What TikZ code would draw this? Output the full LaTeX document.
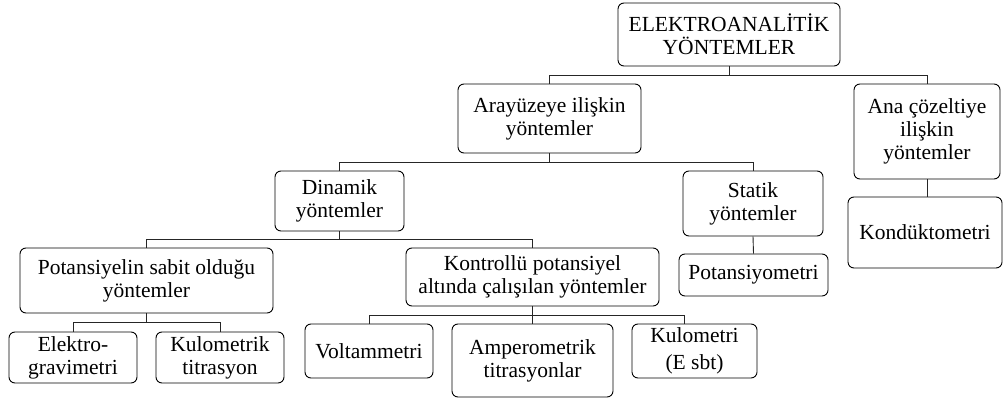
\documentclass[tikz,border=0pt]{standalone}
\usepackage{fontspec}
\setmainfont{Liberation Serif}
\newfontfamily\tnr{Liberation Serif}
\begin{document}
\begin{tikzpicture}[x=1pt,y=-1pt,
  box/.style={draw=black, line width=0.9pt, rounded corners=6pt, inner sep=0pt,
    align=center, font=\tnr\fontsize{21.5}{23}\selectfont, text=black},
  conn/.style={draw=black!85, line width=0.9pt}]
\useasboundingbox (0,0) rectangle (1003,398);
\fill[white] (0,0) rectangle (1003,398);
% boxes
\node[box, minimum width=222pt, minimum height=63pt] (top) at (729,34.5) {ELEKTROANALİTİK\\YÖNTEMLER};
\node[box, minimum width=183pt, minimum height=69pt] (ara) at (549.5,118.5) {Arayüzeye ilişkin\\yöntemler};
\node[box, minimum width=146pt, minimum height=95pt] (ana) at (927,131.5) {Ana çözeltiye\\ilişkin\\yöntemler};
\node[box, minimum width=129pt, minimum height=60pt] (din) at (339.5,201) {Dinamik\\yöntemler};
\node[box, minimum width=140pt, minimum height=65pt] (sta) at (753,203.5) {Statik\\yöntemler};
\node[box, minimum width=154pt, minimum height=71pt] (kon) at (925,232.5) {Kondüktometri};
\node[box, minimum width=253pt, minimum height=65pt] (pot) at (146.5,280.5) {Potansiyelin sabit olduğu\\yöntemler};
\node[box, minimum width=253pt, minimum height=58pt] (ktr) at (532.5,277) {Kontrollü potansiyel\\altında çalışılan yöntemler};
\node[box, minimum width=149pt, minimum height=42pt] (pym) at (753.5,275) {Potansiyometri};
\node[box, minimum width=128pt, minimum height=51pt] (ele) at (73,357.5) {Elektro-\\gravimetri};
\node[box, minimum width=128pt, minimum height=51pt] (kum) at (220,357.5) {Kulometrik\\titrasyon};
\node[box, minimum width=128pt, minimum height=54pt] (vol) at (369,351) {Voltammetri};
\node[box, minimum width=161pt, minimum height=73pt] (amp) at (532.5,360.5) {Amperometrik\\titrasyonlar};
\node[box, minimum width=125pt, minimum height=54pt, font=\tnr\fontsize{21.5}{27}\selectfont] (kul) at (694.5,351) {Kulometri\\(E sbt)};
% bus points
\coordinate (b1) at (729,75.7);
\coordinate (b2) at (549.5,162);
\coordinate (b3) at (339.5,239.5);
\coordinate (b4) at (146.5,322);
\coordinate (b5) at (532.5,315);
\coordinate (k3) at (684.6,315);
% connectors
\draw[conn] (top.south) -- (b1) -| (ara.north);
\draw[conn] (b1) -| (ana.north);
\draw[conn] (ana.south) -- (ana.south |- kon.north);
\draw[conn] (ara.south) -- (b2) -| (din.north);
\draw[conn] (b2) -| (sta.north);
\draw[conn] (sta.south) -- (pym.north);
\draw[conn] (din.south) -- (b3) -| (pot.north);
\draw[conn] (b3) -| (ktr.north);
\draw[conn] (pot.south) -- (b4) -| (ele.north);
\draw[conn] (b4) -| (kum.north);
\draw[conn] (ktr.south) -- (b5) -| (vol.north);
\draw[conn] (b5) -- (amp.north);
\draw[conn] (b5) -- (k3) -- (k3 |- kul.north);
\end{tikzpicture}
\end{document}
